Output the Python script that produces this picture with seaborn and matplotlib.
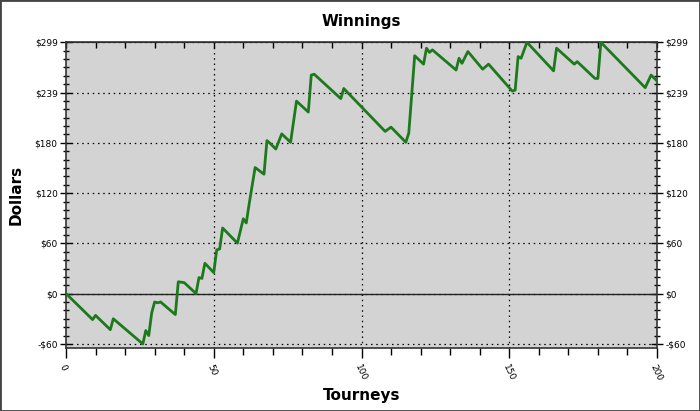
import numpy as np
import pandas as pd
import matplotlib
matplotlib.use("Agg")
import matplotlib.pyplot as plt
import seaborn as sns
from matplotlib.ticker import MultipleLocator, AutoMinorLocator
from matplotlib.patches import Rectangle

# cumulative winnings, vertices of the running total
tourney = [0, 9, 10, 15, 16, 26, 27, 28, 29, 30, 31, 32, 37, 38, 40, 44, 45, 46,
           47, 50, 51, 52, 53, 58, 60, 61, 62, 64, 67, 68, 69, 71, 73, 76, 78, 82,
           83, 84, 93, 94, 108, 110, 115, 116, 118, 121, 122, 123, 124, 132, 133,
           134, 136, 141, 143, 151, 152, 153, 154, 156, 165, 166, 172, 173, 179,
           180, 181, 196, 198, 200]
dollars = [0, -31, -26, -43, -30, -60, -44, -50, -23, -10, -11, -10, -25, 14, 13,
           0, 19, 18, 36, 25, 52, 53, 78, 60, 89, 84, 107, 150, 142, 182, 179, 172,
           190, 180, 229, 216, 260, 261, 232, 244, 193, 198, 180, 191, 283, 273,
           292, 287, 290, 266, 280, 274, 288, 267, 273, 241, 242, 282, 280, 299,
           265, 292, 273, 276, 256, 256, 299, 245, 260, 253]

ytick_vals = np.linspace(-60, 299, 7)
ytick_labels = ["-$60", "$0", "$60", "$120", "$180", "$239", "$299"]
xtick_vals = [0, 50, 100, 150, 200]

df = pd.DataFrame({"Tourneys": tourney, "Dollars": dollars})

sns.set_style("ticks", {"axes.facecolor": "#d3d3d3"})
plt.rcParams["font.family"] = ["DejaVu Sans"]
plt.rcParams["text.color"] = "black"
plt.rcParams["axes.labelcolor"] = "black"
plt.rcParams["xtick.color"] = "black"
plt.rcParams["ytick.color"] = "black"

fig = plt.figure(figsize=(7, 4.11), dpi=100)
ax = fig.add_axes([66 / 700, 1 - 348 / 411, 591 / 700, (348 - 42.3) / 411])

sns.lineplot(data=df, x="Tourneys", y="Dollars", ax=ax, color="#1c7a1c",
             linewidth=2, zorder=5)

ax.set_xlim(0, 200)
ax.set_ylim(-64.8, 299)

ax.set_yticks(ytick_vals)
ax.set_yticklabels(ytick_labels)
ax.yaxis.set_minor_locator(AutoMinorLocator(6))
ax.tick_params(axis="y", which="major", direction="inout", length=8, width=1,
               left=True, right=True, labelleft=True, labelright=True,
               labelsize=6.5, pad=2)
ax.tick_params(axis="y", which="minor", direction="inout", length=5, width=1,
               left=True, right=True)

ax.set_xticks(xtick_vals)
ax.set_xticklabels([str(v) for v in xtick_vals], rotation=-65, ha="left",
                   va="top", rotation_mode="anchor")
ax.xaxis.set_minor_locator(MultipleLocator(10))
ax.tick_params(axis="x", which="major", direction="out", length=7, width=1,
               labelsize=6.5, pad=4)
ax.tick_params(axis="x", which="minor", direction="out", length=5, width=1)

top = ax.secondary_xaxis("top")
top.set_xticks(np.arange(0, 201, 10))
top.tick_params(direction="in", length=4, width=1, labeltop=False)

# dotted grid
for v in ytick_vals:
    ax.axhline(v, color="black", linestyle=(0, (1.2, 3)), linewidth=0.9, zorder=1)
for v in [50, 100, 150]:
    ax.axvline(v, color="black", linestyle=(0, (1.2, 3)), linewidth=0.9, zorder=1)
ax.axhline(0, color="#222222", linewidth=1, zorder=2)

for s in ax.spines.values():
    s.set_color("#333333")
    s.set_linewidth(1.2)

ax.set_title("Winnings", fontsize=11, fontweight="bold", pad=12)
ax.set_xlabel("Tourneys", fontsize=11, fontweight="bold", labelpad=0)
ax.xaxis.set_label_coords(0.5, -0.13)
ax.set_ylabel("Dollars", fontsize=11, fontweight="bold", labelpad=8)

fig.patches.append(Rectangle((0, 0), 1, 1, transform=fig.transFigure,
                             fill=False, edgecolor="#444444", linewidth=2))

fig.savefig("out.png", dpi=100)
